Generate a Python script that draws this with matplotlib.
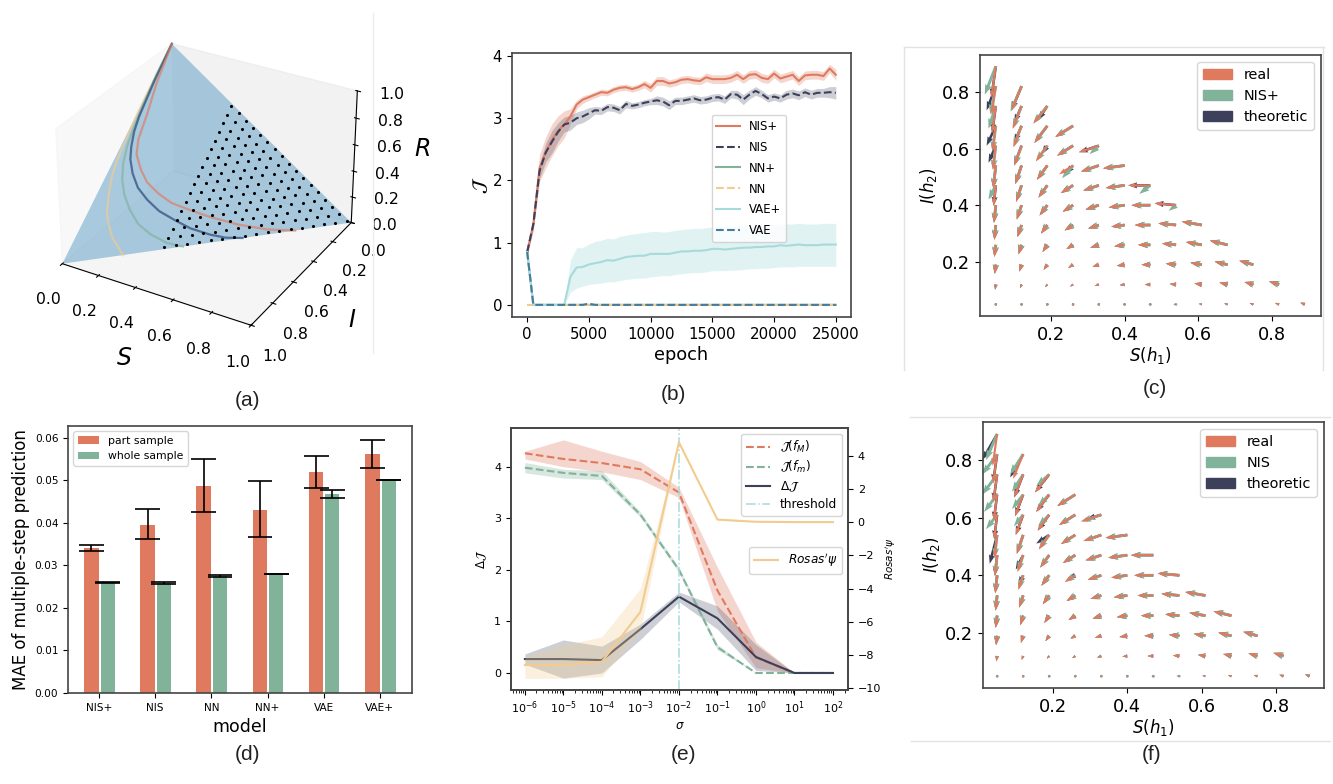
# plot.py
# Six panel comparison figure: SIR phase space, dEI curves, vector fields,
# multi-step prediction error and the sigma sweep.

import matplotlib
matplotlib.use("Agg")
import matplotlib.pyplot as plt
from matplotlib.lines import Line2D
from matplotlib.patches import Patch
from matplotlib.ticker import LogLocator, NullFormatter
from mpl_toolkits.mplot3d.art3d import Poly3DCollection
import numpy as np

WIDTH, HEIGHT = 1333, 784

ORANGE = "#E07A5F"
NAVY = "#3D405B"
GREEN = "#81B29A"
TAN = "#F2CC8F"
AQUA = "#A8DADC"
BLUE = "#457B9D"

# (a) trajectories on the S + I + R = 1 plane
tan_s = [.204, .168, .134, .100, .072, .044, .022, .011, .006, .002, .000, .000, .000]
tan_i = [.797, .785, .777, .750, .723, .660, .596, .523, .440, .345, .248, .122, .000]
teal_s = [.408, .343, .270, .205, .149, .101, .066, .040, .023, .013, .006, .000, .000]
teal_i = [.592, .629, .652, .659, .642, .613, .574, .522, .458, .376, .290, .145, .000]
navy_s = [.615, .552, .489, .405, .332, .258, .195, .138, .093, .059, .039, .022, .013, .004, .000]
navy_i = [.385, .435, .473, .514, .537, .557, .559, .551, .524, .488, .446, .391, .330, .177, .000]
pink_s = [.800, .694, .574, .461, .371, .289, .226, .163, .116, .073, .052, .038, .017, .000]
pink_i = [.200, .282, .358, .418, .460, .495, .506, .507, .487, .454, .403, .296, .177, .000]
dot_s_levels = [0.34, 0.38, 0.42, 0.46, 0.50, 0.54, 0.58, 0.62, 0.66,
                0.70, 0.74, 0.78, 0.82, 0.86, 0.90, 0.94, 0.98]
dot_i_levels = [0.01, 0.05, 0.09, 0.13, 0.17, 0.21, 0.25, 0.29, 0.33,
                0.37, 0.41, 0.45, 0.49, 0.53, 0.57, 0.61, 0.65]

# (b) dimension averaged EI during training
epochs = [0, 500, 1000, 1500, 2000, 2500, 3000, 3500, 4000, 4500, 5000, 5500, 6000,
          6500, 7000, 7500, 8000, 8500, 9000, 9500, 10000, 10500, 11000, 11500, 12000,
          12500, 13000, 13500, 14000, 14500, 15000, 15500, 16000, 16500, 17000, 17500,
          18000, 18500, 19000, 19500, 20000, 20500, 21000, 21500, 22000, 22500, 23000,
          23500, 24000, 24500, 25000]
nis_plus = [0.85, 1.30, 2.20, 2.45, 2.65, 2.80, 2.90, 3.03, 3.22, 3.30, 3.34, 3.38, 3.42,
            3.41, 3.46, 3.49, 3.50, 3.47, 3.50, 3.55, 3.49, 3.60, 3.60, 3.56, 3.58,
            3.62, 3.63, 3.61, 3.60, 3.66, 3.63, 3.63, 3.63, 3.65, 3.70, 3.63,
            3.70, 3.71, 3.65, 3.63, 3.72, 3.64, 3.67, 3.70, 3.60, 3.69, 3.70,
            3.70, 3.68, 3.80, 3.70]
nis_plus_err = [0.05, 0.10, 0.22, 0.25, 0.26, 0.24, 0.22, 0.12, 0.07, 0.06, 0.05, 0.05, 0.05,
                0.05, 0.05, 0.05, 0.05, 0.05, 0.05, 0.06, 0.07, 0.07, 0.07, 0.06, 0.06,
                0.06, 0.06, 0.06, 0.06, 0.07, 0.07, 0.07, 0.07, 0.07, 0.07, 0.07,
                0.07, 0.07, 0.07, 0.07, 0.07, 0.07, 0.07, 0.07, 0.07, 0.07, 0.07,
                0.07, 0.07, 0.07, 0.09]
nis_mean = [0.85, 1.30, 2.15, 2.45, 2.62, 2.78, 2.90, 2.93, 3.00, 3.03, 3.08, 3.13, 3.12,
            3.18, 3.17, 3.13, 3.23, 3.20, 3.22, 3.25, 3.27, 3.29, 3.27, 3.21, 3.28,
            3.28, 3.30, 3.32, 3.29, 3.30, 3.33, 3.34, 3.30, 3.39, 3.38, 3.30,
            3.38, 3.44, 3.39, 3.32, 3.35, 3.32, 3.38, 3.40, 3.37, 3.42, 3.38,
            3.41, 3.41, 3.42, 3.41]
nis_err = [0.05, 0.08, 0.12, 0.15, 0.18, 0.15, 0.12, 0.12, 0.10, 0.10, 0.09, 0.06, 0.06,
           0.06, 0.06, 0.06, 0.06, 0.05, 0.05, 0.05, 0.05, 0.07, 0.07, 0.07, 0.06,
           0.06, 0.06, 0.06, 0.06, 0.06, 0.06, 0.06, 0.06, 0.06, 0.07, 0.08,
           0.07, 0.07, 0.06, 0.06, 0.06, 0.06, 0.07, 0.07, 0.07, 0.07, 0.07,
           0.07, 0.07, 0.09, 0.10]
vae_plus = [0.85, 0.00, 0.00, 0.00, 0.00, 0.00, 0.00, 0.45, 0.60, 0.61, 0.65, 0.67, 0.69,
            0.72, 0.71, 0.74, 0.77, 0.78, 0.79, 0.79, 0.82, 0.82, 0.82, 0.82, 0.84,
            0.86, 0.86, 0.87, 0.87, 0.88, 0.90, 0.90, 0.89, 0.90, 0.91, 0.92,
            0.92, 0.93, 0.93, 0.94, 0.94, 0.96, 0.95, 0.96, 0.97, 0.96, 0.96,
            0.96, 0.97, 0.97, 0.97]
vae_plus_hi = [0.85, 0.00, 0.00, 0.00, 0.00, 0.00, 0.00, 0.72, 0.92, 0.92, 0.98, 1.02, 1.04,
               1.07, 1.06, 1.10, 1.12, 1.14, 1.15, 1.16, 1.18, 1.18, 1.17, 1.18, 1.20,
               1.21, 1.22, 1.23, 1.23, 1.24, 1.25, 1.26, 1.25, 1.26, 1.27, 1.27,
               1.27, 1.28, 1.28, 1.29, 1.29, 1.30, 1.30, 1.30, 1.31, 1.30, 1.30,
               1.30, 1.31, 1.31, 1.31]
vae_plus_lo = [0.85, 0.00, 0.00, 0.00, 0.00, 0.00, 0.00, 0.20, 0.27, 0.30, 0.33, 0.34, 0.35,
               0.37, 0.37, 0.39, 0.41, 0.42, 0.43, 0.43, 0.45, 0.46, 0.47, 0.47, 0.49,
               0.50, 0.51, 0.52, 0.52, 0.53, 0.55, 0.55, 0.55, 0.56, 0.56, 0.57,
               0.58, 0.58, 0.59, 0.59, 0.60, 0.61, 0.61, 0.61, 0.62, 0.62, 0.62,
               0.62, 0.62, 0.62, 0.62]
nn_plus = [0.85] + [0.0] * 50
nn_mean = [0.0] * 51
vae_mean = [0.85, 0.00, 0.00, 0.00, 0.00, 0.00, 0.00, 0.00, 0.00, 0.00, 0.02, 0.00] + [0.0] * 39

# (c), (f) vector field, rows run from the lowest I upward
grid_s = [0.05, 0.12, 0.19, 0.26, 0.33, 0.40, 0.47, 0.54, 0.61, 0.68, 0.75, 0.82, 0.89]
grid_i = [0.05, 0.12, 0.19, 0.26, 0.33, 0.40, 0.47, 0.54, 0.61, 0.68, 0.75, 0.82, 0.89]
real_u = [
    [-.001, -.002, -.003, -.004, -.004, -.005, -.006, -.007, -.008, -.009, -.010, -.011, -.012],
    [-.002, -.004, -.006, -.008, -.011, -.013, -.015, -.017, -.020, -.022, -.024, -.027],
    [-.003, -.006, -.010, -.013, -.017, -.021, -.024, -.028, -.031, -.035, -.038],
    [-.004, -.008, -.013, -.018, -.023, -.028, -.033, -.038, -.043, -.048],
    [-.004, -.011, -.017, -.023, -.029, -.036, -.042, -.048, -.054],
    [-.005, -.013, -.021, -.028, -.036, -.043, -.051, -.058],
    [-.006, -.015, -.024, -.033, -.042, -.051, -.060],
    [-.007, -.017, -.028, -.038, -.048, -.058],
    [-.008, -.020, -.031, -.043, -.054],
    [-.009, -.022, -.035, -.048],
    [-.010, -.024, -.038],
    [-.011, -.027],
    [-.012],
]
real_v = [
    [-.006, -.005, -.004, -.003, -.002, -.001, .000, .001, .002, .003, .004, .005, .006],
    [-.018, -.013, -.009, -.007, -.005, -.002, .000, .002, .004, .007, .009, .011],
    [-.032, -.024, -.018, -.011, -.007, -.004, .000, .004, .007, .011, .014],
    [-.042, -.033, -.025, -.015, -.010, -.005, .000, .005, .010, .015],
    [-.052, -.042, -.030, -.019, -.012, -.006, .000, .006, .012],
    [-.062, -.050, -.036, -.023, -.015, -.008, .000, .007],
    [-.072, -.058, -.043, -.027, -.018, -.009, .000],
    [-.080, -.065, -.050, -.031, -.021, -.010],
    [-.085, -.070, -.055, -.035, -.023],
    [-.090, -.075, -.060, -.039],
    [-.095, -.080, -.062],
    [-.100, -.085],
    [-.110],
]
# where the learned / theoretic arrows visibly leave the real ones: (col, row): (u, v)
c_nis = {(0, 12): (-.030, -.100), (0, 11): (-.015, -.100), (0, 10): (-.020, -.080),
         (0, 6): (-.020, -.050), (1, 11): (-.030, -.090), (6, 6): (-.030, -.030),
         (7, 5): (-.020, -.020), (4, 8): (-.025, -.030), (3, 7): (-.030, -.045)}
c_theory = {(0, 11): (-.025, -.085), (0, 9): (-.025, -.070), (0, 8): (-.020, -.060),
            (1, 10): (-.020, -.060), (1, 9): (-.020, -.060), (2, 10): (-.025, -.050),
            (2, 8): (-.015, -.030), (3, 7): (-.020, -.030)}
f_nis = {(0, 12): (-.030, -.090), (0, 11): (-.040, -.070), (0, 10): (-.040, -.070),
         (0, 9): (-.035, -.060), (0, 8): (-.030, -.050), (1, 11): (-.035, -.070),
         (1, 10): (-.030, -.060), (1, 9): (-.030, -.050), (1, 8): (-.025, -.040),
         (2, 10): (-.035, -.040), (2, 9): (-.030, -.040), (2, 8): (-.030, -.040)}
f_theory = {(0, 12): (-.040, -.090), (0, 7): (-.020, -.100), (1, 11): (-.035, -.080),
            (1, 6): (-.020, -.050), (1, 5): (-.012, -.035), (2, 7): (-.035, -.030),
            (4, 8): (-.040, -.015), (4, 7): (-.045, -.020), (3, 5): (-.020, -.010),
            (3, 2): (-.012, -.006)}

# (d) multi-step prediction error
models = ["NIS+", "NIS", "NN", "NN+", "VAE", "VAE+"]
part_mean = [0.0341, 0.0395, 0.0487, 0.0431, 0.0519, 0.0562]
part_hi = [0.0349, 0.0432, 0.0551, 0.0499, 0.0557, 0.0595]
part_lo = [0.0334, 0.0362, 0.0425, 0.0366, 0.0482, 0.0530]
whole_mean = [0.0260, 0.0258, 0.0276, 0.0280, 0.0468, 0.0502]
whole_hi = [0.0261, 0.0260, 0.0278, 0.0281, 0.0478, 0.0502]
whole_lo = [0.0259, 0.0256, 0.0274, 0.0279, 0.0458, 0.0502]

# (e) sigma sweep
sigma = [1e-6, 1e-5, 1e-4, 1e-3, 1e-2, 1e-1, 1e0, 1e1, 1e2]
j_macro = [4.26, 4.15, 4.07, 3.95, 3.50, 1.60, 0.30, 0.00, 0.00]
j_macro_hi = [4.30, 4.52, 4.30, 4.10, 3.60, 2.05, 0.60, 0.00, 0.00]
j_macro_lo = [4.15, 4.00, 3.90, 3.75, 3.40, 1.20, 0.10, 0.00, 0.00]
j_micro = [3.98, 3.88, 3.82, 3.07, 2.00, 0.50, 0.00, 0.00, 0.00]
j_micro_hi = [4.08, 3.95, 3.92, 3.12, 2.05, 0.55, 0.00, 0.00, 0.00]
j_micro_lo = [3.88, 3.78, 3.75, 3.02, 1.95, 0.45, 0.00, 0.00, 0.00]
delta_j = [0.27, 0.27, 0.25, 0.85, 1.48, 1.06, 0.31, 0.00, 0.00]
delta_j_hi = [0.37, 0.64, 0.52, 0.95, 1.57, 1.30, 0.55, 0.00, 0.00]
delta_j_lo = [0.17, -0.10, 0.00, 0.65, 1.38, 0.85, 0.05, 0.00, 0.00]
rosas = [-8.6, -8.6, -8.4, -5.4, 4.8, 0.15, 0.02, 0.00, 0.00]
rosas_hi = [-8.1, -7.4, -6.9, -4.0, 4.8, 0.20, 0.03, 0.00, 0.00]
rosas_lo = [-9.4, -9.4, -9.3, -6.5, 4.8, 0.10, 0.01, 0.00, 0.00]


def px_axes(fig, left, top, right, bottom, **kwargs):
    """Axes placed by its pixel box in the 1333x784 canvas."""
    return fig.add_axes([left / WIDTH, 1 - bottom / HEIGHT,
                         (right - left) / WIDTH, (bottom - top) / HEIGHT], **kwargs)


def frame_line(fig, x0, y0, x1, y1, color="#e2e2e2"):
    # Faint screenshot edges around some panels
    fig.add_artist(Line2D([x0 / WIDTH, x1 / WIDTH], [1 - y0 / HEIGHT, 1 - y1 / HEIGHT],
                          transform=fig.transFigure, color=color, lw=1))


def style_spines(ax, color="#444444"):
    for spine in ax.spines.values():
        spine.set_color(color)
        spine.set_linewidth(1.2)


def draw_phase_space(fig):
    ax = px_axes(fig, 18, 16, 392, 348, projection="3d", computed_zorder=False)
    ax.patch.set_alpha(0)
    corners = [[(1, 0, 0), (0, 1, 0), (0, 0, 1)]]
    plane = Poly3DCollection(corners, facecolor="#1f77b4", alpha=0.36, edgecolor="none", zorder=1)
    ax.add_collection3d(plane)

    curves = [(tan_s, tan_i, TAN), (teal_s, teal_i, GREEN),
              (navy_s, navy_i, "#1f3f74"), (pink_s, pink_i, ORANGE)]
    for s, i, color in curves:
        s, i = np.array(s), np.array(i)
        ax.plot(s, i, 1 - s - i, color=color, lw=1.6, alpha=0.65, zorder=2)

    dot_s, dot_i = np.meshgrid(dot_s_levels, dot_i_levels)
    keep = dot_s + dot_i <= 1.0
    ax.scatter(dot_s[keep], dot_i[keep], 1 - dot_s[keep] - dot_i[keep],
               s=5, color="black", depthshade=False, zorder=3, linewidths=0)

    ax.set_xlim(0, 1)
    ax.set_ylim(1, 0)
    ax.set_zlim(0, 1)
    ax.set_box_aspect((4, 4, 2.85))
    ax.view_init(elev=30, azim=-60)
    ax.grid(False)
    ticks = [0, 0.2, 0.4, 0.6, 0.8, 1.0]
    ax.set_xticks(ticks)
    ax.set_yticks(ticks)
    ax.set_zticks(ticks)
    ax.tick_params(labelsize=11.3, pad=7)
    ax.set_xlabel("$S$", fontsize=17, labelpad=12)
    ax.set_ylabel("$I$", fontsize=17, labelpad=11)
    ax.set_zlabel("$R$", fontsize=17, labelpad=9)


def draw_training(fig):
    ax = px_axes(fig, 512, 53, 851, 317)
    ep = np.array(epochs)
    ax.fill_between(ep, np.array(nis_plus) - np.array(nis_plus_err),
                    np.array(nis_plus) + np.array(nis_plus_err), color=ORANGE, alpha=0.3, lw=0)
    ax.fill_between(ep, np.array(nis_mean) - np.array(nis_err),
                    np.array(nis_mean) + np.array(nis_err), color=NAVY, alpha=0.25, lw=0)
    ax.fill_between(ep, vae_plus_lo, vae_plus_hi, color=AQUA, alpha=0.35, lw=0)
    ax.plot(ep, nis_plus, color=ORANGE, lw=1.5, label="NIS+")
    ax.plot(ep, nis_mean, color=NAVY, lw=1.5, ls="--", label="NIS")
    ax.plot(ep, nn_plus, color=GREEN, lw=1.5, label="NN+")
    ax.plot(ep, nn_mean, color=TAN, lw=1.5, ls="--", label="NN")
    ax.plot(ep, vae_plus, color=AQUA, lw=1.5, label="VAE+")
    ax.plot(ep, vae_mean, color=BLUE, lw=1.5, ls="--", label="VAE")
    ax.set_xlim(-1230, 26230)
    ax.set_ylim(-0.195, 4.05)
    ax.set_xticks([0, 5000, 10000, 15000, 20000, 25000])
    ax.set_yticks([0, 1, 2, 3, 4])
    ax.tick_params(labelsize=10.8)
    ax.set_xlabel("epoch", fontsize=12.8, labelpad=3)
    ax.set_ylabel(r"$\mathcal{J}$", fontsize=14, labelpad=2)
    ax.legend(loc="upper right", bbox_to_anchor=(0.808, 0.765), borderaxespad=0,
              fontsize=8.4, labelspacing=0.68)
    style_spines(ax)


def arrow_table(overrides):
    """Flatten the real field, swapping in the arrows listed in overrides."""
    xs, ys, us, vs = [], [], [], []
    for row, (row_u, row_v) in enumerate(zip(real_u, real_v)):
        for col, (u, v) in enumerate(zip(row_u, row_v)):
            u, v = overrides.get((col, row), (u, v))
            xs.append(grid_s[col])
            ys.append(grid_i[row])
            us.append(u)
            vs.append(v)
    return xs, ys, us, vs


def draw_field(ax, nis_arrows, theory_arrows, nis_label):
    quiver_kw = dict(angles="xy", scale_units="xy", scale=1, headwidth=2.4, headlength=3.5,
                     headaxislength=3.2)
    ax.quiver(*arrow_table(theory_arrows), color=NAVY, width=0.0075, **quiver_kw)
    ax.quiver(*arrow_table(nis_arrows), color=GREEN, width=0.0085, **quiver_kw)
    ax.quiver(*arrow_table({}), color=ORANGE, width=0.0062, **quiver_kw)
    ax.set_xticks([0.2, 0.4, 0.6, 0.8])
    ax.set_yticks([0.2, 0.4, 0.6, 0.8])
    ax.tick_params(labelsize=12.8)
    ax.set_xlabel("$S(h_1)$", fontsize=12, labelpad=1)
    ax.set_ylabel("$I(h_2)$", fontsize=12, labelpad=2)
    handles = [Patch(color=ORANGE, label="real"), Patch(color=GREEN, label=nis_label),
               Patch(color=NAVY, label="theoretic")]
    ax.legend(handles=handles, loc="upper right", fontsize=10.4)
    style_spines(ax)


def draw_errors(fig):
    ax = px_axes(fig, 68, 426, 412, 693)
    x = np.arange(len(models))
    ax.bar(x - 0.135, part_mean, 0.26, color=ORANGE, label="part sample")
    ax.bar(x + 0.155, whole_mean, 0.25, color=GREEN, label="whole sample")
    for offset, hi, lo in [(-0.135, part_hi, part_lo), (0.155, whole_hi, whole_lo)]:
        ax.vlines(x + offset, lo, hi, color="black", lw=1.2)
        ax.hlines(lo, x + offset - 0.22, x + offset + 0.22, color="black", lw=1.2)
        ax.hlines(hi, x + offset - 0.22, x + offset + 0.22, color="black", lw=1.2)
    ax.set_xlim(-0.55, 5.57)
    ax.set_ylim(0, 0.0628)
    ax.set_xticks(x, models)
    ax.set_yticks([0, 0.01, 0.02, 0.03, 0.04, 0.05, 0.06])
    ax.set_yticklabels(["0.00", "0.01", "0.02", "0.03", "0.04", "0.05", "0.06"])
    ax.tick_params(labelsize=7.6)
    ax.set_xlabel("model", fontsize=12.5, labelpad=4)
    ax.set_ylabel("MAE of multiple-step prediction", fontsize=12, labelpad=3)
    ax.legend(loc="upper left", fontsize=7.8, borderaxespad=0.5)
    style_spines(ax)


def draw_sweep(fig):
    ax = px_axes(fig, 511, 428, 848, 690)
    ax.fill_between(sigma, j_macro_lo, j_macro_hi, color=ORANGE, alpha=0.3, lw=0)
    ax.fill_between(sigma, j_micro_lo, j_micro_hi, color=GREEN, alpha=0.3, lw=0)
    ax.fill_between(sigma, delta_j_lo, delta_j_hi, color=NAVY, alpha=0.25, lw=0)
    ax.plot(sigma, j_macro, color=ORANGE, lw=1.5, ls="--", label=r"$\mathcal{J}(f_M)$")
    ax.plot(sigma, j_micro, color=GREEN, lw=1.5, ls="--", label=r"$\mathcal{J}(f_m)$")
    ax.plot(sigma, delta_j, color=NAVY, lw=1.5, label=r"$\Delta\mathcal{J}$")
    ax.axvline(1e-2, color=AQUA, lw=1.1, ls="-.", label="threshold")
    ax.set_xscale("log")
    ax.set_xlim(10 ** -6.36, 10 ** 2.39)
    ax.set_ylim(-0.33, 4.75)
    ax.set_xticks(sigma)
    ax.xaxis.set_minor_locator(LogLocator(base=10, subs=(2, 3, 4, 5, 6, 7, 8, 9), numticks=12))
    ax.xaxis.set_minor_formatter(NullFormatter())
    ax.set_yticks([0, 1, 2, 3, 4])
    ax.tick_params(labelsize=8)
    ax.set_xlabel(r"$\sigma$", fontsize=8.5, labelpad=2)
    ax.set_ylabel(r"$\Delta\mathcal{J}$", fontsize=8.5, labelpad=4)
    ax.legend(loc="upper right", fontsize=8.7, labelspacing=0.35)
    style_spines(ax)

    twin = ax.twinx()
    twin.fill_between(sigma, rosas_lo, rosas_hi, color=TAN, alpha=0.3, lw=0)
    twin.plot(sigma, rosas, color=TAN, lw=1.5, label=r"$Rosas'\psi$")
    twin.set_ylim(-10.1, 5.66)
    twin.set_yticks([-10, -8, -6, -4, -2, 0, 2, 4])
    twin.tick_params(labelsize=8)
    twin.set_ylabel(r"$Rosas'\psi$", fontsize=7.5, labelpad=2)
    twin.legend(loc="upper right", bbox_to_anchor=(0.982, 0.546), borderaxespad=0, fontsize=8.7)
    style_spines(twin)


def main():
    fig = plt.figure(figsize=(WIDTH / 100, HEIGHT / 100), dpi=100)

    draw_phase_space(fig)
    draw_training(fig)

    ax_c = px_axes(fig, 980, 55, 1321, 316)
    draw_field(ax_c, c_nis, c_theory, "NIS+")
    ax_c.set_xlim(0.007, 0.934)
    ax_c.set_ylim(0.009, 0.93)

    draw_errors(fig)
    draw_sweep(fig)

    ax_f = px_axes(fig, 983, 422, 1324, 688)
    draw_field(ax_f, f_nis, f_theory, "NIS")
    ax_f.set_xlim(0.012, 0.929)
    ax_f.set_ylim(0.009, 0.932)

    frame_line(fig, 373, 13, 373, 353, color="#eeeeee")
    frame_line(fig, 904, 47, 904, 370)
    frame_line(fig, 904, 47, 1324, 47)
    frame_line(fig, 1323, 47, 1323, 370)
    frame_line(fig, 910, 417, 1330, 417)
    frame_line(fig, 911, 741, 1330, 741)

    captions = [("(a)", 247, 400), ("(b)", 673, 395), ("(c)", 1155, 389),
                ("(d)", 248, 755), ("(e)", 683, 755), ("(f)", 1152, 755)]
    for text, x, y in captions:
        fig.text(x / WIDTH, 1 - y / HEIGHT, text, ha="center", va="center",
                 fontsize=15, family="Liberation Sans", color="#222222")

    fig.savefig("out.png", dpi=100)
    plt.close(fig)


if __name__ == "__main__":
    main()
